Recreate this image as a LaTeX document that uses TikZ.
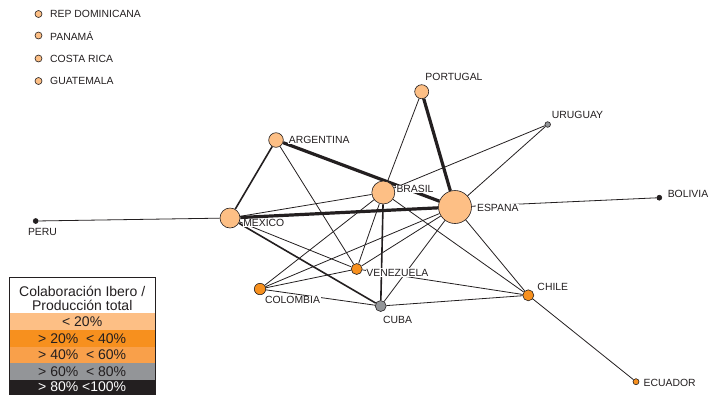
\documentclass[tikz,border=0pt]{standalone}
\usepackage{fontspec}
\setmainfont{Liberation Sans}
\usetikzlibrary{backgrounds}
\definecolor{peach}{HTML}{FDBF85}
\definecolor{orD}{HTML}{F7901E}
\definecolor{orM}{HTML}{F9A04A}
\definecolor{gr}{HTML}{939598}
\definecolor{bk}{HTML}{231F20}
\begin{document}
\begin{tikzpicture}[x=1bp,y=-1bp,
  nd/.style={circle,draw=bk,line width=0.6bp,inner sep=0pt,minimum size=#1},
  lab/.style={font=\fontsize{10.4bp}{12bp}\selectfont,fill=white,inner sep=0.6bp,text=bk},
  lst/.style={font=\fontsize{10.4bp}{12bp}\selectfont,inner sep=0pt,text=bk,anchor=west},
  eA/.style={draw=bk,line width=0.8bp},
  eB/.style={draw=bk,line width=1.6bp},
  eC/.style={draw=bk,line width=3.2bp},
  leg/.style={font=\fontsize{14bp}{15bp}\selectfont,inner sep=0pt,text=bk},
  legrow/.style={minimum width=145.5bp,minimum height=16.6bp,inner sep=0pt,font=\fontsize{14bp}{15bp}\selectfont,text=bk}
]
\useasboundingbox (0,0) rectangle (713,394);

% nodes
\node[nd=14bp,fill=peach] (por) at (421.7,91.7) {};
\node[nd=5.6bp,fill=gr] (uru) at (547.7,124.5) {};
\node[nd=14.6bp,fill=peach] (arg) at (276,140) {};
\node[nd=23bp,fill=peach] (bra) at (383.3,192.5) {};
\node[nd=33bp,fill=peach] (esp) at (455,207) {};
\node[nd=5bp,fill=bk] (bol) at (659.3,197.7) {};
\node[nd=5bp,fill=bk] (per) at (35.7,221) {};
\node[nd=20bp,fill=peach] (mex) at (230,218) {};
\node[nd=11bp,fill=orD] (ven) at (356.7,269) {};
\node[nd=11.4bp,fill=orD] (col) at (260,289) {};
\node[nd=11bp,fill=gr] (cub) at (380.7,306) {};
\node[nd=11bp,fill=orD] (chi) at (528.3,295.3) {};
\node[nd=6bp,fill=orD] (ecu) at (636,381.7) {};

% edges
\begin{scope}[on background layer]
\draw[eC] (arg) -- (esp);
\draw[eC] (mex) -- (esp);
\draw[eC] (por) -- (esp);
\draw[eB] (arg) -- (mex);
\draw[eB] (mex) -- (cub);
\draw[eB] (bra) -- (cub);
\draw[eA] (mex) -- (per);
\draw[eA] (mex) -- (bra);
\draw[eA] (mex) -- (ven);
\draw[eA] (arg) -- (ven);
\draw[eA] (bra) -- (por);
\draw[eA] (bra) -- (uru);
\draw[eA] (bra) -- (ven);
\draw[eA] (bra) -- (col);
\draw[eA] (bra) -- (chi);
\draw[eA] (esp) -- (uru);
\draw[eA] (esp) -- (bol);
\draw[eA] (esp) -- (col);
\draw[eA] (esp) -- (ven);
\draw[eA] (esp) -- (cub);
\draw[eA] (esp) -- (chi);
\draw[eA] (col) -- (ven);
\draw[eA] (col) -- (cub);
\draw[eA] (ven) -- (chi);
\draw[eA] (cub) -- (chi);
\draw[eA] (chi) -- (ecu);
\end{scope}

% labels
\node[lab] (lpor) at (454,76.5) {PORTUGAL};
\node[lab] (luru) at (577.5,114.5) {URUGUAY};
\node[lab] (larg) at (319.2,140.2) {ARGENTINA};
\node[lab] (lbra) at (415,189.2) {BRASIL};
\node[lab] (lesp) at (497.8,207.8) {ESPANA};
\node[lab] (lbol) at (688,193.7) {BOLIVIA};
\node[lab] (lper) at (42.5,232.2) {PERU};
\node[lab] (lmex) at (263.8,223.2) {MEXICO};
\node[lab] (lven) at (397.3,272.5) {VENEZUELA};
\node[lab] (lcol) at (292.5,299.8) {COLOMBIA};
\node[lab] (lcub) at (397.5,320.2) {CUBA};
\node[lab] (lchi) at (552.8,287.2) {CHILE};
\node[lab] (lecu) at (669.7,382.5) {ECUADOR};

% isolated countries
\node[nd=7bp,fill=peach] (rep) at (38.5,14) {};
\node[nd=7bp,fill=peach] (pan) at (38.5,35.5) {};
\node[nd=7bp,fill=peach] (cos) at (38.5,58.5) {};
\node[nd=7bp,fill=peach] (gua) at (38.5,81) {};
\node[lst] (lrep) at (50,14) {REP DOMINICANA};
\node[lst] (lpan) at (50,35.5) {PANAMÁ};
\node[lst] (lcos) at (50,58.5) {COSTA RICA};
\node[lst] (lgua) at (50,81) {GUATEMALA};

% legend
\node[leg] (lt1) at (82.2,291.3) {Colaboración Ibero /};
\node[leg] (lt2) at (82.2,305.5) {Producción total};
\node[legrow,fill=peach] (r1) at (82.2,321.6) {< 20\%};
\node[legrow,fill=orD] (r2) at (82.2,338.2) {> 20\%\ \ < 40\%};
\node[legrow,fill=orM] (r3) at (82.2,354.8) {> 40\%\ \ < 60\%};
\node[legrow,fill=gr] (r4) at (82.2,371.4) {> 60\%\ \ < 80\%};
\node[legrow,fill=bk,text=white,minimum height=14.6bp] (r5) at (82.2,387) {> 80\% <100\%};
\draw[draw=bk,line width=1bp] (9.5,277.5) rectangle (155,394);
\end{tikzpicture}
\end{document}
